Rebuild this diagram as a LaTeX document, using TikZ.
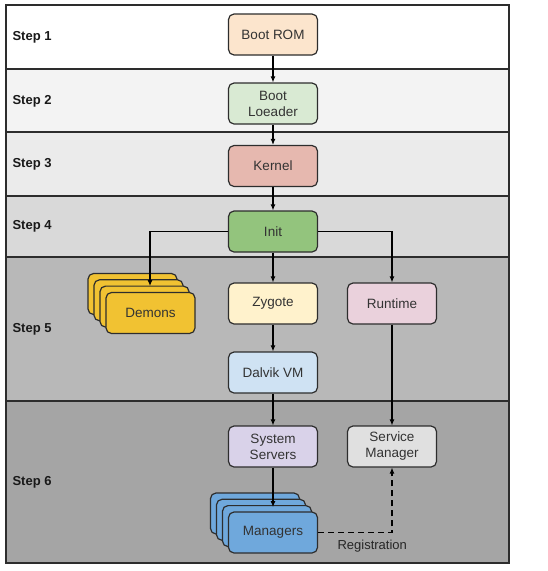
\documentclass[tikz,border=0pt]{standalone}
\usepackage{fontspec}
\setmainfont{Liberation Sans}
\usetikzlibrary{arrows.meta}
\definecolor{bdedge}{RGB}{45,45,45}
\definecolor{bandA}{RGB}{255,255,255}
\definecolor{bandB}{RGB}{243,243,243}
\definecolor{bandC}{RGB}{235,235,235}
\definecolor{bandD}{RGB}{217,217,217}
\definecolor{bandE}{RGB}{184,184,184}
\definecolor{bandF}{RGB}{165,165,165}
\definecolor{crom}{RGB}{252,229,205}
\definecolor{cload}{RGB}{217,234,211}
\definecolor{ckern}{RGB}{230,184,175}
\definecolor{cinit}{RGB}{147,196,125}
\definecolor{czyg}{RGB}{255,242,204}
\definecolor{crun}{RGB}{234,209,220}
\definecolor{cdemon}{RGB}{241,194,50}
\definecolor{cdalvik}{RGB}{207,226,243}
\definecolor{csys}{RGB}{217,210,233}
\definecolor{csvc}{RGB}{224,224,224}
\definecolor{cmgr}{RGB}{111,168,220}
\tikzset{
  stepbox/.style={
    draw=bdedge, line width=1.2pt, rounded corners=5.5pt,
    minimum width=89pt, minimum height=41pt, align=center,
    inner sep=2pt, font=\fontsize{13.5}{16}\selectfont, text=black!80
  },
  card/.style={stepbox},
  arr/.style={-{Latex[length=6pt,width=5pt]}, draw=black, line width=1.1pt},
  darr/.style={arr, dash pattern=on 6pt off 4pt},
  sep/.style={draw=bdedge, line width=1.4pt},
  steplab/.style={font=\bfseries\fontsize{13}{15}\selectfont, anchor=west, text=black!90},
  anno/.style={font=\fontsize{13}{15}\selectfont, text=black!85, anchor=west}
}
\begin{document}
\begin{tikzpicture}[x=1pt,y=-1pt]
  \useasboundingbox (0,0) rectangle (548,571);
  % step bands
  \fill[bandA] (6,5) rectangle (509,69);
  \fill[bandB] (6,69) rectangle (509,132);
  \fill[bandC] (6,132) rectangle (509,196);
  \fill[bandD] (6,196) rectangle (509,257);
  \fill[bandE] (6,257) rectangle (509,401);
  \fill[bandF] (6,401) rectangle (509,563);
  \foreach \y in {69,132,196,257,401} {
    \draw[sep] (6,\y) -- (509,\y);
  }
  \draw[sep] (6,5) rectangle (509,563);
  \node[steplab] (s1) at (9,37) {Step 1};
  \node[steplab] (s2) at (9,101) {Step 2};
  \node[steplab] (s3) at (9,164) {Step 3};
  \node[steplab] (s4) at (9,226) {Step 4};
  \node[steplab] (s5) at (9,329) {Step 5};
  \node[steplab] (s6) at (9,482) {Step 6};

  % boxes
  \node[stepbox, fill=crom] (rom) at (273,34.5) {Boot ROM};
  \node[stepbox, fill=cload] (loader) at (273,103.5) {Boot\\Loeader};
  \node[stepbox, fill=ckern] (kernel) at (273,166) {Kernel};
  \node[stepbox, fill=cinit] (init) at (273,231.5) {Init};
  \node[stepbox, fill=czyg] (zygote) at (273,303.5) {Zygote};
  \node[stepbox, fill=crun] (runtime) at (392,303.5) {Runtime};
  \node[stepbox, fill=cdalvik] (dalvik) at (273,372.5) {Dalvik VM};
  \node[stepbox, fill=csys] (sysserv) at (273,446.5) {System\\Servers};
  \node[stepbox, fill=csvc] (svcmgr) at (392,446.5) {Service\\Manager};
  \foreach \i in {0,1,2} {
    \node[card, fill=cdemon] (dem\i) at (132.5+6*\i,294+6.3*\i) {};
    \node[card, fill=cmgr] (mgr\i) at (255+6*\i,513.5+6.3*\i) {};
  }
  \node[card, fill=cdemon] (demons) at (150.5,313) {Demons};
  \node[card, fill=cmgr] (managers) at (273,532.5) {Managers};

  % connectors
  \coordinate (dtip) at (150,286);
  \coordinate (mtip) at (273,507);
  \draw[arr] (rom) -- (loader);
  \draw[arr] (loader) -- (kernel);
  \draw[arr] (kernel) -- (init);
  \draw[arr] (init) -- (zygote);
  \draw[arr] (init.west) -| (dtip);
  \draw[arr] (init.east) -| (runtime.north);
  \draw[arr] (zygote) -- (dalvik);
  \draw[arr] (dalvik) -- (sysserv);
  \draw[arr] (runtime) -- (svcmgr);
  \draw[arr] (sysserv) -- (mtip);
  \draw[darr] (managers.east) -| (svcmgr.south);
  \node[anno] (reg) at (334,546) {Registration};
\end{tikzpicture}
\end{document}
